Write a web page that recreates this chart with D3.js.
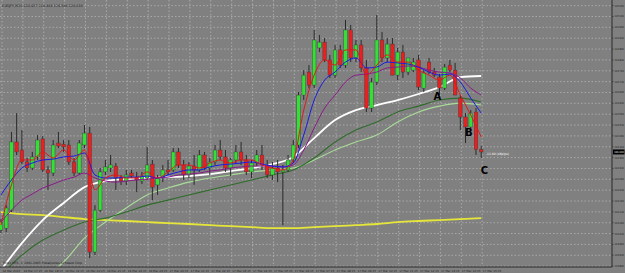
<!DOCTYPE html>
<html>
<head>
<meta charset="utf-8">
<script src="https://cdn.jsdelivr.net/npm/d3@7"></script>
<style>
  body { margin: 0; background: #808080; overflow: hidden; }
  svg { display: block; }
</style>
</head>
<body>
<div id="chart"></div>
<script>
// candles, EURJPY M15
const opens = [124.056,124.065,124.148,124.462,124.425,124.370,124.342,124.393,124.476,124.333,
  124.319,124.457,124.452,124.448,124.370,124.319,124.448,124.503,123.955,124.148,
  124.324,124.342,124.351,124.296,124.282,124.319,124.300,124.282,124.296,124.360,
  124.264,124.296,124.333,124.333,124.416,124.356,124.310,124.351,124.333,124.402,
  124.342,124.370,124.425,124.393,124.342,124.379,124.416,124.379,124.324,124.365,
  124.402,124.356,124.310,124.342,124.324,124.333,124.379,124.448,124.678,124.784,
  124.724,124.895,124.922,124.840,124.770,124.886,124.816,124.978,124.849,124.909,
  124.803,124.618,124.738,124.932,124.849,124.913,124.770,124.876,124.784,124.793,
  124.840,124.710,124.830,124.784,124.761,124.710,124.816,124.793,124.664,124.577,
  124.531,124.600,124.427];
const highs = [124.107,124.171,124.508,124.595,124.517,124.388,124.416,124.494,124.489,124.351,
  124.471,124.508,124.471,124.471,124.388,124.471,124.540,124.531,124.171,124.342,
  124.379,124.402,124.365,124.310,124.333,124.333,124.324,124.324,124.439,124.379,
  124.310,124.356,124.379,124.434,124.434,124.379,124.370,124.402,124.425,124.416,
  124.388,124.448,124.471,124.425,124.388,124.448,124.462,124.402,124.379,124.425,
  124.448,124.379,124.370,124.379,124.356,124.402,124.471,124.692,124.793,124.816,
  124.978,124.955,124.941,124.863,124.909,124.909,125.024,125.001,124.932,124.932,
  124.840,124.757,125.047,124.969,124.941,124.941,124.895,124.909,124.849,124.849,
  124.863,124.793,124.849,124.803,124.775,124.821,124.840,124.826,124.678,124.595,
  124.609,124.618,124.444];
const lows = [124.042,124.047,124.139,124.402,124.360,124.324,124.333,124.379,124.324,124.241,
  124.305,124.434,124.416,124.356,124.305,124.310,124.434,123.927,123.941,124.139,
  124.310,124.324,124.241,124.264,124.264,124.296,124.231,124.268,124.287,124.194,
  124.218,124.277,124.310,124.324,124.342,124.287,124.296,124.264,124.324,124.333,
  124.310,124.356,124.379,124.324,124.305,124.365,124.356,124.310,124.296,124.351,
  124.333,124.296,124.287,124.277,124.079,124.324,124.365,124.434,124.655,124.710,
  124.710,124.876,124.830,124.757,124.757,124.803,124.803,124.830,124.830,124.784,
  124.600,124.600,124.724,124.830,124.830,124.770,124.747,124.757,124.770,124.784,
  124.701,124.692,124.775,124.761,124.678,124.701,124.784,124.678,124.517,124.457,
  124.517,124.402,124.388];
const closes = [124.093,124.158,124.462,124.416,124.370,124.342,124.393,124.471,124.333,124.319,
  124.448,124.443,124.439,124.370,124.319,124.457,124.503,123.955,124.148,124.324,
  124.347,124.356,124.296,124.282,124.310,124.305,124.287,124.305,124.356,124.254,
  124.296,124.333,124.324,124.416,124.356,124.310,124.351,124.333,124.402,124.342,
  124.370,124.425,124.393,124.342,124.379,124.416,124.379,124.324,124.365,124.402,
  124.356,124.310,124.342,124.324,124.333,124.379,124.448,124.678,124.770,124.724,
  124.932,124.922,124.840,124.770,124.886,124.816,124.978,124.849,124.909,124.803,
  124.618,124.738,124.932,124.849,124.913,124.770,124.876,124.784,124.849,124.830,
  124.715,124.780,124.784,124.770,124.710,124.807,124.793,124.678,124.577,124.531,
  124.595,124.427,124.416];

// moving averages read every 2 bars
const maRed = [124.079,124.264,124.379,124.379,124.416,124.388,124.425,124.379,124.425,124.241,
  124.296,124.310,124.296,124.296,124.324,124.296,124.324,124.356,124.356,124.342,
  124.365,124.379,124.365,124.379,124.379,124.356,124.342,124.333,124.379,124.609,
  124.770,124.840,124.816,124.886,124.886,124.770,124.816,124.863,124.830,124.830,
  124.793,124.770,124.747,124.770,124.678,124.586,124.485];
const maBlue = [124.218,124.287,124.342,124.365,124.379,124.383,124.393,124.397,124.411,124.310,
  124.296,124.296,124.300,124.300,124.305,124.296,124.310,124.324,124.333,124.333,
  124.347,124.356,124.360,124.365,124.370,124.360,124.351,124.347,124.365,124.494,
  124.655,124.747,124.784,124.830,124.849,124.803,124.807,124.830,124.826,124.821,
  124.807,124.784,124.770,124.775,124.738,124.664,124.595];
const maPurple = [124.093,124.148,124.194,124.222,124.250,124.268,124.287,124.300,124.319,124.296,
  124.282,124.277,124.282,124.287,124.291,124.296,124.300,124.310,124.314,124.319,
  124.328,124.333,124.342,124.347,124.351,124.351,124.351,124.347,124.356,124.425,
  124.526,124.618,124.678,124.738,124.770,124.775,124.784,124.803,124.807,124.812,
  124.807,124.793,124.784,124.780,124.757,124.710,124.678];
// slower ones read every 4 bars
const maWhite = [123.872,123.996,124.102,124.181,124.254,124.282,124.291,124.296,124.300,124.305,
  124.314,124.328,124.342,124.360,124.393,124.480,124.563,124.609,124.632,124.655,
  124.683,124.715,124.761,124.766];
const maDarkGreen = [123.849,123.941,124.010,124.056,124.093,124.111,124.139,124.171,124.194,124.218,
  124.241,124.264,124.287,124.310,124.333,124.388,124.462,124.517,124.554,124.600,
  124.627,124.655,124.664,124.646];
const maLightGreen = [123.734,123.780,123.835,123.909,124.019,124.093,124.158,124.218,124.250,124.277,
  124.296,124.310,124.324,124.333,124.342,124.379,124.425,124.462,124.494,124.554,
  124.600,124.627,124.641,124.632];
const maYellow = [124.139,124.130,124.125,124.116,124.107,124.102,124.098,124.093,124.088,124.084,
  124.079,124.074,124.070,124.065,124.065,124.070,124.074,124.079,124.084,124.093,
  124.098,124.102,124.107,124.111];

const priceTicks = [125.090,125.040,124.990,124.940,124.890,124.840,124.790,124.740,124.690,124.640,
  124.590,124.540,124.490,124.440,124.390,124.340,124.290,124.240,124.190,124.140,
  124.090,124.040,123.990,123.940,123.890];
const timeLabels = ["16 Mar 2015","16 Mar 17:15","16 Mar 18:15","16 Mar 19:15","16 Mar 20:15","16 Mar 21:15",
  "16 Mar 22:15","16 Mar 23:15","17 Mar 00:15","17 Mar 01:15","17 Mar 02:15","17 Mar 03:15",
  "17 Mar 04:15","17 Mar 05:15","17 Mar 06:15","17 Mar 07:15","17 Mar 08:15","17 Mar 09:15",
  "17 Mar 10:15","17 Mar 11:15","17 Mar 12:15","17 Mar 13:15","17 Mar 14:15","17 Mar 15:15"];

const width = 625, height = 273;
const plotRight = 612, plotBottom = 267;

const svg = d3.select("#chart").append("svg")
    .attr("width", width)
    .attr("height", height)
    .style("font-family", "'DejaVu Sans', sans-serif");

svg.append("rect").attr("width", width).attr("height", height).attr("fill", "#808080");

const x = d3.scaleLinear().domain([0, opens.length - 1]).range([1, 481.2]);
const y = d3.scaleLinear().domain([123.886, 125.116]).range([plotBottom, 0]);

// grid
const grid = svg.append("g")
    .attr("stroke", "#b4b4b4")
    .attr("stroke-width", 0.8)
    .attr("stroke-dasharray", "1.5,2");
grid.selectAll("line.h").data(priceTicks).enter().append("line")
    .attr("x1", 0).attr("x2", plotRight)
    .attr("y1", d => y(d)).attr("y2", d => y(d));
grid.selectAll("line.v").data(timeLabels).enter().append("line")
    .attr("x1", (d, i) => x(i * 4) + 1).attr("x2", (d, i) => x(i * 4) + 1)
    .attr("y1", 0).attr("y2", plotBottom);

const plot = svg.append("g");
plot.append("clipPath").attr("id", "clip")
    .append("rect").attr("width", plotRight).attr("height", plotBottom);
const inner = plot.append("g").attr("clip-path", "url(#clip)");

// moving averages
function drawMa(values, step, color, w) {
    const line = d3.line()
        .x((d, i) => x(i * step))
        .y(d => y(d))
        .curve(d3.curveMonotoneX);
    inner.append("path")
        .datum(values)
        .attr("d", line)
        .attr("fill", "none")
        .attr("stroke", color)
        .attr("stroke-width", w);
}
drawMa(maYellow, 4, "#e6e63a", 1.8);
drawMa(maLightGreen, 4, "#a8dc98", 1.1);
drawMa(maDarkGreen, 4, "#2f6b2a", 1.1);
drawMa(maWhite, 4, "#ffffff", 1.8);

// candles
const bodyW = 3.6;
const candles = inner.append("g").selectAll("g")
    .data(opens.map((o, i) => ({ i: i, o: o, h: highs[i], l: lows[i], c: closes[i] })))
    .enter().append("g");
candles.append("line")
    .attr("x1", d => x(d.i)).attr("x2", d => x(d.i))
    .attr("y1", d => y(d.h)).attr("y2", d => y(d.l))
    .attr("stroke", "#2a2a2a").attr("stroke-width", 1);
candles.append("rect")
    .attr("x", d => x(d.i) - bodyW / 2)
    .attr("width", bodyW)
    .attr("y", d => y(Math.max(d.o, d.c)))
    .attr("height", d => Math.max(1, Math.abs(y(d.o) - y(d.c))))
    .attr("fill", d => d.c >= d.o ? "#33e033" : "#e82020")
    .attr("stroke", "#3a3a3a")
    .attr("stroke-width", 0.4);

drawMa(maPurple, 2, "#8a1a8a", 1);
drawMa(maBlue, 2, "#1a1ae6", 1);
drawMa(maRed, 2, "#e01818", 1);

// frame
svg.append("line").attr("x1", plotRight).attr("x2", plotRight).attr("y1", 0).attr("y2", plotBottom)
    .attr("stroke", "#2a2a2a").attr("stroke-width", 1);
svg.append("line").attr("x1", 0).attr("x2", plotRight).attr("y1", plotBottom).attr("y2", plotBottom)
    .attr("stroke", "#2a2a2a").attr("stroke-width", 1);

// price axis
const yAxis = svg.append("g");
yAxis.selectAll("text").data(priceTicks).enter().append("text")
    .attr("x", 614.5).attr("y", d => y(d) + 1)
    .attr("font-size", 2.8)
    .attr("textLength", 9.5)
    .attr("lengthAdjust", "spacingAndGlyphs")
    .attr("fill", "#1a1a1a")
    .text(d => d.toFixed(3));
yAxis.selectAll("line").data(priceTicks).enter().append("line")
    .attr("x1", plotRight).attr("x2", plotRight + 1.5)
    .attr("y1", d => y(d)).attr("y2", d => y(d))
    .attr("stroke", "#2a2a2a").attr("stroke-width", 0.6);

// current price box
const last = closes[closes.length - 1];
svg.append("rect").attr("x", 613).attr("y", y(last) - 2.5).attr("width", 11.5).attr("height", 5).attr("fill", "#000");
svg.append("text").attr("x", 614.2).attr("y", y(last) + 1)
    .attr("font-size", 2.8)
    .attr("textLength", 9.5)
    .attr("lengthAdjust", "spacingAndGlyphs")
    .attr("fill", "#fff").text(last.toFixed(3));

// time axis
svg.append("g").selectAll("text").data(timeLabels).enter().append("text")
    .attr("x", (d, i) => x(i * 4) + 1.5)
    .attr("y", 271.5)
    .attr("font-size", 2.8)
    .attr("fill", "#1a1a1a")
    .text(d => d);

// header and footer
svg.append("text").attr("x", 2).attr("y", 6.5).attr("font-size", 3.4).attr("fill", "#1a1a1a")
    .text("EURJPY,M15  124.427 124.444 124.388 124.416");
svg.append("text").attr("x", 3).attr("y", 263.5).attr("font-size", 3).attr("fill", "#1a1a1a")
    .text("Forex MTS, \u00a9 2001-2005 MetaQuotes Software Corp.");

// annotations
svg.append("text").attr("x", 486).attr("y", y(last) + 3).attr("font-size", 3).attr("fill", "#ffffff")
    .text("-11.00 (46pips)");
const notes = [["A", 84, 124.655], ["B", 90, 124.490], ["C", 93, 124.316]];
svg.append("g").selectAll("text").data(notes).enter().append("text")
    .attr("x", d => x(d[1]) - 2)
    .attr("y", d => y(d[2]))
    .attr("text-anchor", "middle")
    .attr("font-size", 10)
    .attr("font-weight", "bold")
    .attr("fill", "#000")
    .text(d => d[0]);
</script>
</body>
</html>
